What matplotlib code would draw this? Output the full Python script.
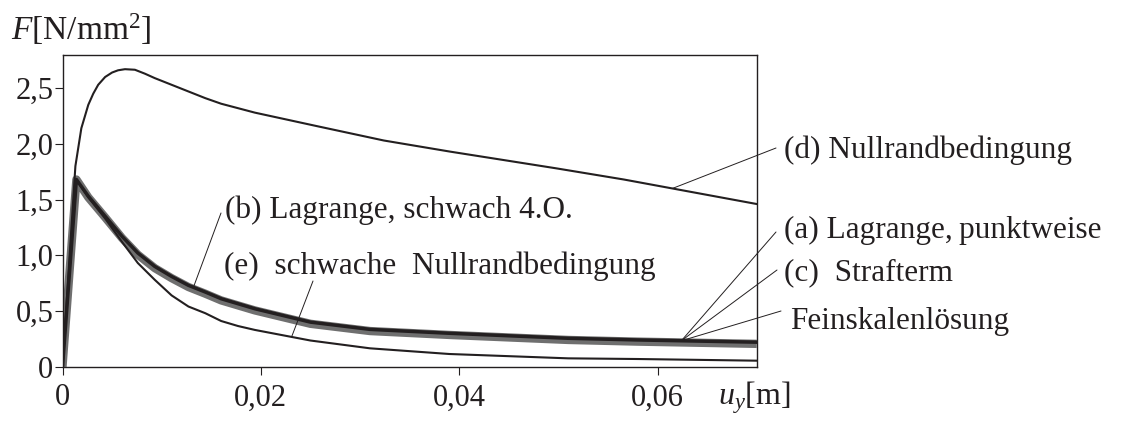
import matplotlib
matplotlib.use("Agg")
import matplotlib.pyplot as plt
import numpy as np

plt.rcParams["font.family"] = ["Liberation Serif", "DejaVu Serif"]
plt.rcParams["mathtext.fontset"] = "custom"
plt.rcParams["mathtext.rm"] = "Liberation Serif"
plt.rcParams["mathtext.it"] = "Liberation Serif:italic"

# data (u_y in m, F in N/mm^2)
# (d) Nullrandbedingung
d_x = [0, 0.0013, 0.0016, 0.0019, 0.0023, 0.0026, 0.0031, 0.0036, 0.0043, 0.005,
       0.0056, 0.0063, 0.0073, 0.0083, 0.0093, 0.011, 0.0127, 0.0144, 0.016,
       0.0177, 0.0194, 0.0256, 0.0324, 0.0391, 0.0441, 0.0498, 0.0566,
       0.0633, 0.070]
d_y = [0, 1.80, 1.97, 2.14, 2.26, 2.35, 2.45, 2.53, 2.60, 2.64,
       2.66, 2.67, 2.665, 2.63, 2.59, 2.53, 2.47, 2.41, 2.36,
       2.32, 2.28, 2.16, 2.03, 1.93, 1.86, 1.78, 1.68,
       1.57, 1.46]

# (a)/(b)/(c) Lagrange / Strafterm (black) and Feinskalenloesung (grey)
main_x = [0, 0.0014, 0.0026, 0.0043, 0.006, 0.0076, 0.0093, 0.011, 0.0127,
          0.0144, 0.016, 0.0177, 0.0194, 0.025, 0.031, 0.039, 0.051, 0.058, 0.070]
lagrange_y = [0, 1.68, 1.53, 1.35, 1.17, 1.02, 0.90, 0.81, 0.73,
              0.67, 0.61, 0.565, 0.52, 0.40, 0.335, 0.30, 0.255, 0.24, 0.22]
fine_y = [0, 1.68, 1.52, 1.34, 1.155, 1.005, 0.885, 0.795, 0.715,
          0.655, 0.595, 0.55, 0.505, 0.385, 0.32, 0.285, 0.24, 0.225, 0.205]

# (e) schwache Nullrandbedingung
e_x = [0, 0.0014, 0.0026, 0.0043, 0.006, 0.0076, 0.0093, 0.011, 0.0127, 0.0144,
       0.016, 0.0177, 0.0194, 0.025, 0.031, 0.039, 0.051, 0.058, 0.070]
e_y = [0, 1.68, 1.52, 1.33, 1.12, 0.93, 0.78, 0.64, 0.54, 0.48,
       0.41, 0.365, 0.33, 0.235, 0.165, 0.114, 0.075, 0.069, 0.054]

x_ticks = [0, 0.02, 0.04, 0.06]
x_tick_labels = ["0", "0,02", "0,04", "0,06"]
y_ticks = [0, 0.5, 1.0, 1.5, 2.0, 2.5]
y_tick_labels = ["0", "0,5", "1,0", "1,5", "2,0", "2,5"]

BLACK = "#231f20"
GREY = "#6f6f6f"

W, H = 1122, 421
fig = plt.figure(figsize=(W / 100, H / 100), dpi=100)
ax = fig.add_axes([62.5 / W, (H - 366.7) / H, (756.7 - 62.5) / W, (366.7 - 54.7) / H])

ax.plot(main_x, fine_y, color=GREY, lw=6, solid_capstyle="butt", zorder=2)
ax.plot(main_x, lagrange_y, color=BLACK, lw=2.5, zorder=3)
ax.plot(e_x, e_y, color=BLACK, lw=1.5, zorder=3)
ax.plot(d_x, d_y, color=BLACK, lw=1.5, zorder=3)

ax.set_xlim(0, 0.07)
ax.set_ylim(0, 2.8)
ax.set_xticks(x_ticks)
ax.set_xticklabels(x_tick_labels)
ax.set_yticks(y_ticks)
ax.set_yticklabels(y_tick_labels)
ax.tick_params(direction="out", length=5.5, width=0.8, colors=BLACK, labelsize=22)
ax.tick_params(axis="x", pad=6.5)
ax.tick_params(axis="y", pad=1)
for s in ax.spines.values():
    s.set_linewidth(1.0)
    s.set_color(BLACK)


def fig_px(px, py):
    return (px / W, 1 - py / H)


def leader(xv, xs, ys, end):
    yv = np.interp(xv, xs, ys)
    ax.annotate("", xy=(xv, yv), xycoords="data",
                xytext=fig_px(*end), textcoords="figure fraction",
                arrowprops=dict(arrowstyle="-", lw=0.7, color=BLACK,
                                shrinkA=0, shrinkB=0),
                annotation_clip=False)


leader(0.0615, d_x, d_y, (776, 148))
leader(0.0132, main_x, lagrange_y, (221, 213))
leader(0.0231, e_x, e_y, (313, 281))
leader(0.0624, main_x, lagrange_y, (776, 232))
leader(0.0624, main_x, lagrange_y, (777, 270))
leader(0.0624, main_x, lagrange_y, (781, 311))

lab = dict(fontsize=22.5, color=BLACK, va="center", ha="left")
fig.text(*fig_px(784, 150), "(d) Nullrandbedingung", **lab)
fig.text(*fig_px(784, 230), "(a) Lagrange,\u2009punktweise", **lab)
fig.text(*fig_px(784, 273), "(c)  Strafterm", **lab)
fig.text(*fig_px(790, 322), "Feinskalenlösung", **lab)
fig.text(*fig_px(225, 210), "(b) Lagrange, schwach 4.O.", **lab)
fig.text(*fig_px(224, 266), "(e)  schwache  Nullrandbedingung", **lab)

fig.text(*fig_px(11, 40), r"$F$[N/mm$^2$]", fontsize=24, color=BLACK,
         va="baseline", ha="left")
fig.text(*fig_px(718, 398), r"$u_y$[m]", fontsize=23, color=BLACK,
         va="center", ha="left")

fig.savefig("out.png", dpi=100)
